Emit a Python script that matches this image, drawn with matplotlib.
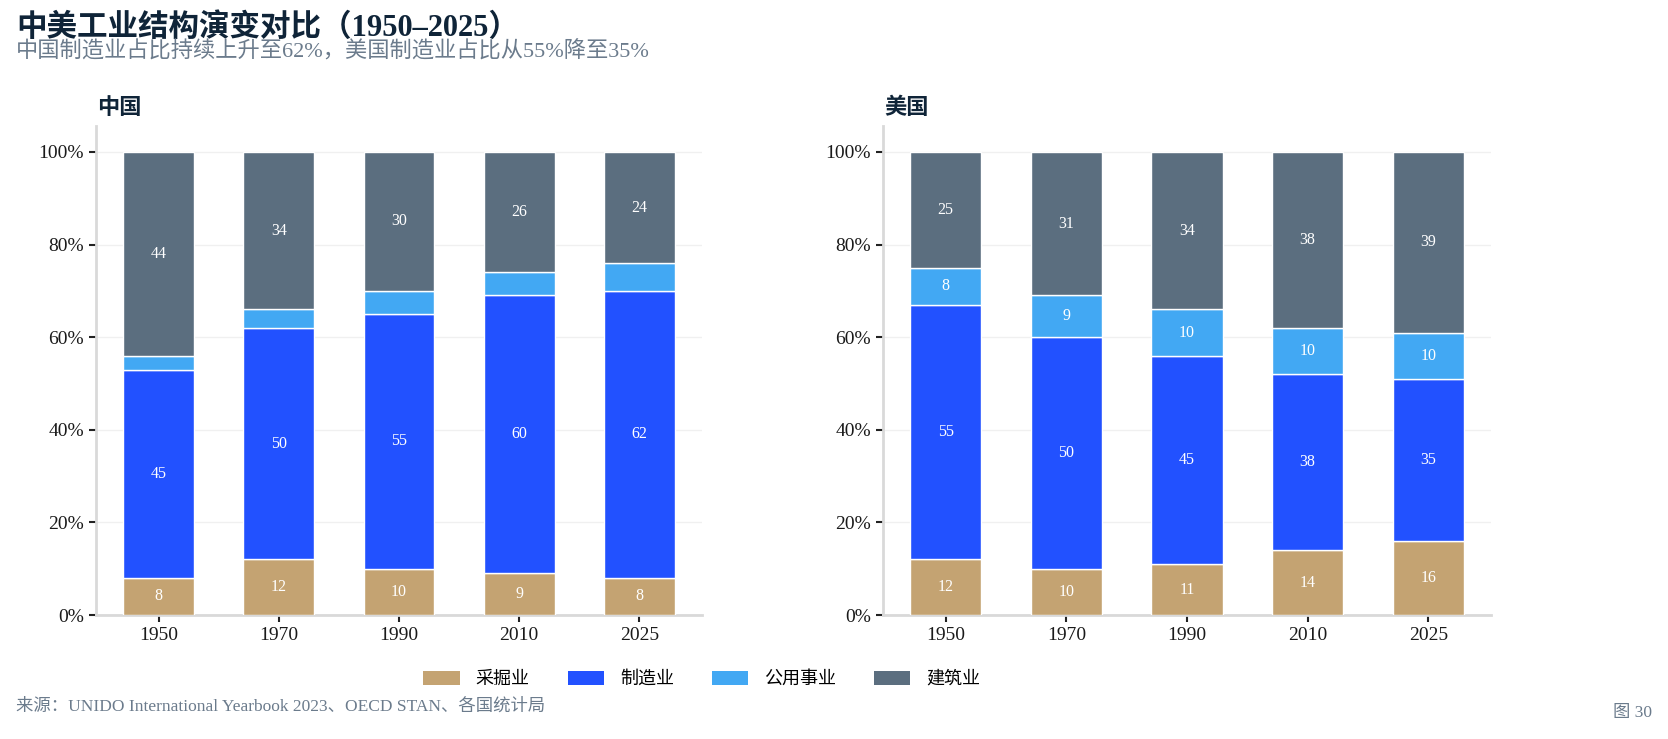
import matplotlib
matplotlib.use("Agg")
import matplotlib.pyplot as plt
import numpy as np
from matplotlib.patches import Patch

plt.rcParams["font.family"] = ["Liberation Serif", "Noto Sans CJK SC", "DejaVu Sans"]

years = ["1950", "1970", "1990", "2010", "2025"]
sectors = ["采掘业", "制造业", "公用事业", "建筑业"]
colors = ["#C4A372", "#2251FF", "#42A8F3", "#5B6E7F"]

china_mining = [8, 12, 10, 9, 8]
china_manuf = [45, 50, 55, 60, 62]
china_util = [3, 4, 5, 5, 6]
china_constr = [44, 34, 30, 26, 24]

us_mining = [12, 10, 11, 14, 16]
us_manuf = [55, 50, 45, 38, 35]
us_util = [8, 9, 10, 10, 10]
us_constr = [25, 31, 34, 38, 39]

panels = [
    ("中国", [china_mining, china_manuf, china_util, china_constr]),
    ("美国", [us_mining, us_manuf, us_util, us_constr]),
]

fig = plt.figure(figsize=(16.68, 7.39), dpi=100)
W, H = 1668, 739
axes_boxes = [(96, 126, 702, 615), (883, 126, 1491, 615)]

x = np.arange(len(years))
for (name, series), (l, t, r, b) in zip(panels, axes_boxes):
    ax = fig.add_axes([l / W, 1 - b / H, (r - l) / W, (b - t) / H])
    bottom = np.zeros(len(years))
    for vals, col in zip(series, colors):
        vals = np.array(vals, dtype=float)
        ax.bar(x, vals, bottom=bottom, width=0.59, color=col, edgecolor="white", linewidth=1, zorder=3)
        for xi, v, b0 in zip(x, vals, bottom):
            if v >= 7:
                ax.text(xi, b0 + v / 2, f"{int(v)}", ha="center", va="center",
                        color="white", fontsize=11.5, zorder=4)
        bottom += vals
    ax.set_xlim(-0.52, 4.52)
    ax.set_ylim(0, 105.6)
    ax.set_yticks([0, 20, 40, 60, 80, 100])
    ax.set_yticklabels([f"{v}%" for v in [0, 20, 40, 60, 80, 100]])
    ax.set_xticks(x)
    ax.set_xticklabels(years)
    ax.tick_params(axis="both", labelsize=14, color="#222222", length=5, width=1.5, labelcolor="#1a1a1a")
    ax.grid(axis="y", color="#f0f0f0", linewidth=1, zorder=0)
    for s in ["top", "right"]:
        ax.spines[s].set_visible(False)
    for s in ["left", "bottom"]:
        ax.spines[s].set_color("#d9d9d9")
        ax.spines[s].set_linewidth(2)
    fig.text((l + 1) / W, 1 - 107 / H, name, fontsize=16, fontweight="bold",
             color="#0F2438", ha="left", va="center",
             family=["Noto Sans CJK SC", "DejaVu Sans"])

fig.text(16 / W, 1 - 13 / H, "中美工业结构演变对比（1950–2025）", fontsize=22, fontweight="bold",
         color="#0F2438", ha="left", va="top")
fig.text(16 / W, 1 - 41 / H, "中国制造业占比持续上升至62%，美国制造业占比从55%降至35%", fontsize=16,
         color="#6B7B8C", ha="left", va="top")

handles = [Patch(facecolor=c, edgecolor="none") for c in colors]
fig.legend(handles, sectors, loc="center", bbox_to_anchor=(702 / W, 1 - 679 / H), ncol=4,
           frameon=False, handlelength=2.0, handleheight=0.85, columnspacing=2.1,
           handletextpad=0.9, prop={"family": ["Noto Sans CJK SC", "DejaVu Sans"], "size": 13})

fig.text(16 / W, 1 - 707 / H, "来源：UNIDO International Yearbook 2023、OECD STAN、各国统计局",
         fontsize=12.5, color="#6B7B8C", ha="left", va="center")
fig.text(1652 / W, 1 - 713 / H, "图 30", fontsize=12.5, color="#6B7B8C", ha="right", va="center")

fig.savefig("out.png", dpi=100)
